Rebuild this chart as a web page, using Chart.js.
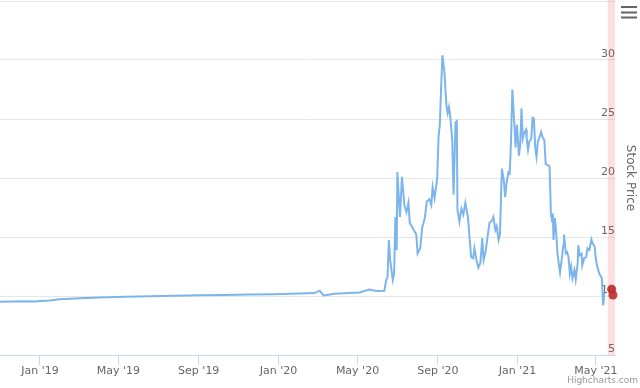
<!DOCTYPE html>
<html>
<head>
<meta charset="utf-8">
<script src="https://cdn.jsdelivr.net/npm/chart.js@4/dist/chart.umd.min.js"></script>
<style>
  html, body { margin: 0; padding: 0; background: #ffffff; }
  #wrap { position: relative; width: 640px; height: 388px; overflow: hidden; }
  #c { display: block; }
  #credit { position: absolute; right: 2px; top: 375px; font: 9px 'DejaVu Sans', sans-serif; line-height: 11px; color: #999999; }
</style>
</head>
<body>
<div id="wrap">
  <canvas id="c" width="640" height="388"></canvas>
  <div id="credit">Highcharts.com</div>
</div>
<script>
// ---- data ----
const dates = [
  '2018-11-01','2018-11-19','2018-12-09','2018-12-24','2019-01-01','2019-01-16','2019-01-31','2019-03-03',
  '2019-04-02','2019-05-11','2019-06-18','2019-07-26','2019-09-02','2019-10-10','2019-11-18','2019-12-26',
  '2020-02-02','2020-02-25','2020-03-04','2020-03-10','2020-03-27','2020-04-19','2020-05-04','2020-05-19',
  '2020-05-30','2020-06-11',
  '2020-06-14','2020-06-16','2020-06-18','2020-06-20','2020-06-24','2020-06-26','2020-06-28','2020-06-30',
  '2020-07-01','2020-07-05','2020-07-08','2020-07-12','2020-07-15','2020-07-18','2020-07-20','2020-07-24',
  '2020-07-30','2020-08-01','2020-08-05','2020-08-08','2020-08-12','2020-08-15','2020-08-19','2020-08-22',
  '2020-08-24','2020-08-27','2020-08-31','2020-09-02','2020-09-04','2020-09-06','2020-09-08','2020-09-11',
  '2020-09-14','2020-09-16','2020-09-18','2020-09-20','2020-09-23','2020-09-25','2020-09-28','2020-09-30',
  '2020-10-01','2020-10-04','2020-10-07','2020-10-10','2020-10-13','2020-10-17','2020-10-19','2020-10-22',
  '2020-10-25','2020-10-27','2020-10-30','2020-11-02','2020-11-05','2020-11-08','2020-11-10','2020-11-13',
  '2020-11-16','2020-11-19','2020-11-23','2020-11-25','2020-11-28','2020-11-30','2020-12-03','2020-12-05',
  '2020-12-08','2020-12-11','2020-12-13','2020-12-15','2020-12-18','2020-12-20','2020-12-22','2020-12-24',
  '2020-12-27','2020-12-29','2020-12-31','2021-01-02','2021-01-03','2021-01-05','2021-01-07','2021-01-09',
  '2021-01-11','2021-01-14','2021-01-15','2021-01-17','2021-01-19','2021-01-22','2021-01-24','2021-01-26',
  '2021-01-28','2021-01-30','2021-02-01','2021-02-04','2021-02-06','2021-02-08','2021-02-11','2021-02-13',
  '2021-02-16','2021-02-19','2021-02-21','2021-02-23','2021-02-24','2021-02-25','2021-02-27','2021-03-01',
  '2021-03-03','2021-03-07','2021-03-10','2021-03-12','2021-03-13','2021-03-16','2021-03-18','2021-03-20',
  '2021-03-22','2021-03-24','2021-03-26','2021-03-29','2021-03-31','2021-04-03','2021-04-04','2021-04-06',
  '2021-04-09','2021-04-10','2021-04-13','2021-04-16','2021-04-18','2021-04-21','2021-04-24','2021-04-26',
  '2021-04-29','2021-05-01','2021-05-03','2021-05-06','2021-05-09','2021-05-10','2021-05-12','2021-05-14'
];
const prices = [
  9.52, 9.54, 9.55, 9.53, 9.58, 9.62, 9.72, 9.80,
  9.88, 9.93, 9.98, 10.02, 10.06, 10.08, 10.12, 10.15,
  10.22, 10.25, 10.45, 10.05, 10.20, 10.25, 10.30, 10.55,
  10.42, 10.45,
  11.36, 11.6, 14.75, 13.05, 11.36, 11.9, 16.7, 13.9,
  20.5, 16.7, 20.1, 17.6, 17.1, 17.9, 16.2, 15.8,
  15.2, 13.6, 14.05, 15.8, 16.6, 18.0, 18.2, 17.7,
  19.25, 18.3, 20.0, 23.5, 24.5, 27.7, 30.4, 29.0,
  26.2, 25.5, 26.0, 25.2, 23.2, 18.6, 24.7, 24.8,
  17.3, 16.3, 17.4, 16.9, 17.9, 16.7, 15.3, 13.3,
  13.2, 14.05, 13.05, 12.4, 12.8, 14.9, 13.05, 13.75,
  15.0, 16.2, 16.4, 16.7, 15.6, 15.9, 14.75, 15.2,
  20.8, 19.8, 18.4, 19.5, 20.5, 20.4, 23.2, 27.5,
  24.6, 22.6, 24.5, 22.9, 21.9, 22.8, 25.9, 23.35,
  23.8, 24.1, 23.35, 22.4, 23.1, 23.35, 25.1, 25.05,
  22.6, 21.8, 23.1, 23.5, 23.9, 23.5, 23.2, 21.2,
  21.1, 21.0, 17.0, 16.3, 17.0, 14.75, 16.6, 15.45,
  13.6, 12.0, 13.3, 14.3, 15.2, 13.6, 13.7, 13.3,
  11.9, 12.5, 11.5, 12.2, 11.4, 12.75, 14.3, 13.45,
  13.6, 12.6, 13.2, 13.3, 14.05, 13.9, 14.8, 14.45,
  14.2, 13.05, 12.5, 11.9, 11.6, 11.5, 9.2, 10.3
];
const markerDates = ['2021-05-25', '2021-05-27'];
const markerPrices = [10.57, 10.08];
const tickDates = ['2019-01-01','2019-05-01','2019-09-01','2020-01-01','2020-05-01','2020-09-01','2021-01-01','2021-05-01'];
const yTickValues = [5, 10, 15, 20, 25, 30, 35];
const bandRange = ['2021-05-19', '2021-05-30T03:00:00Z'];
const xRange = ['2018-10-31T19:00:00Z', '2021-05-30T03:00:00Z'];
const monthNames = ['Jan','Feb','Mar','Apr','May','Jun','Jul','Aug','Sep','Oct','Nov','Dec'];

// ---- chart ----
const FONT = "'DejaVu Sans', sans-serif";
Chart.defaults.font.family = FONT;
Chart.defaults.color = '#666666';

const bandPlugin = {
  id: 'band',
  beforeDatasetsDraw(chart) {
    const {ctx, chartArea, scales} = chart;
    const x1 = scales.x.getPixelForValue(Date.parse(bandRange[0]));
    const x2 = scales.x.getPixelForValue(Date.parse(bandRange[1]));
    ctx.save();
    ctx.fillStyle = 'rgba(245, 80, 80, 0.18)';
    ctx.fillRect(x1, chartArea.top - 1, Math.min(x2, chartArea.right) - x1, chartArea.bottom - chartArea.top + 1);
    ctx.restore();
  },
  afterDraw(chart) {
    const ctx = chart.ctx;
    ctx.save();
    ctx.fillStyle = '#666666';
    ctx.fillRect(621, 6, 16, 2);
    ctx.fillRect(621, 11.5, 16, 2);
    ctx.fillRect(621, 16.5, 16, 2);
    ctx.restore();
  }
};

new Chart(document.getElementById('c'), {
  type: 'line',
  data: {
    datasets: [
      {
        type: 'scatter',
        order: 0,
        clip: false,
        data: markerDates.map((d, i) => ({x: Date.parse(d), y: markerPrices[i]})),
        backgroundColor: 'rgba(192, 45, 45, 0.9)',
        borderWidth: 0,
        pointRadius: 4.5,
        showLine: false
      },
      {
        order: 1,
        data: dates.map((d, i) => ({x: Date.parse(d), y: prices[i]})),
        borderColor: '#7cb5ec',
        borderWidth: 2,
        pointRadius: 0,
        tension: 0,
        fill: false
      }
    ]
  },
  options: {
    responsive: false,
    animation: false,
    devicePixelRatio: 1,
    layout: { autoPadding: false, padding: { top: 1, left: 0, right: 0, bottom: 0 } },
    plugins: { legend: { display: false }, tooltip: { enabled: false } },
    scales: {
      x: {
        type: 'linear',
        position: 'bottom',
        min: Date.parse(xRange[0]),
        max: Date.parse(xRange[1]),
        afterBuildTicks(scale) {
          scale.ticks = tickDates.map(d => ({ value: Date.parse(d) }));
        },
        afterFit(scale) {
          scale.height = 33;
          scale.paddingLeft = 0;
          scale.paddingRight = 0;
        },
        grid: { drawOnChartArea: false, drawTicks: true, tickLength: 10, color: '#ccd6eb' },
        border: { display: true, color: '#ccd6eb', width: 1 },
        ticks: {
          autoSkip: false, maxRotation: 0, minRotation: 0, padding: 0,
          color: '#666666', font: { size: 11, family: FONT },
          callback(value) {
            const d = new Date(value);
            return monthNames[d.getUTCMonth()] + " '" + String(d.getUTCFullYear()).slice(2);
          }
        }
      },
      y: {
        type: 'linear',
        position: 'right',
        min: 5,
        max: 35,
        afterBuildTicks(scale) {
          scale.ticks = yTickValues.map(v => ({ value: v }));
        },
        afterFit(scale) {
          scale.width = 25;
          scale.paddingTop = 0;
          scale.paddingBottom = 0;
        },
        grid: { color: '#e6e6e6', drawTicks: false, lineWidth: 1 },
        border: { display: false },
        ticks: {
          mirror: true, crossAlign: 'near', padding: 0, labelOffset: -6,
          color: '#666666', font: { size: 11, family: FONT },
          callback(value) { return value === 35 ? '' : String(value); }
        },
        title: {
          display: true, text: 'Stock Price', color: '#666666',
          font: { size: 12, family: FONT }, padding: { top: 3, bottom: 0 }
        }
      }
    }
  },
  plugins: [bandPlugin]
});
</script>
</body>
</html>
